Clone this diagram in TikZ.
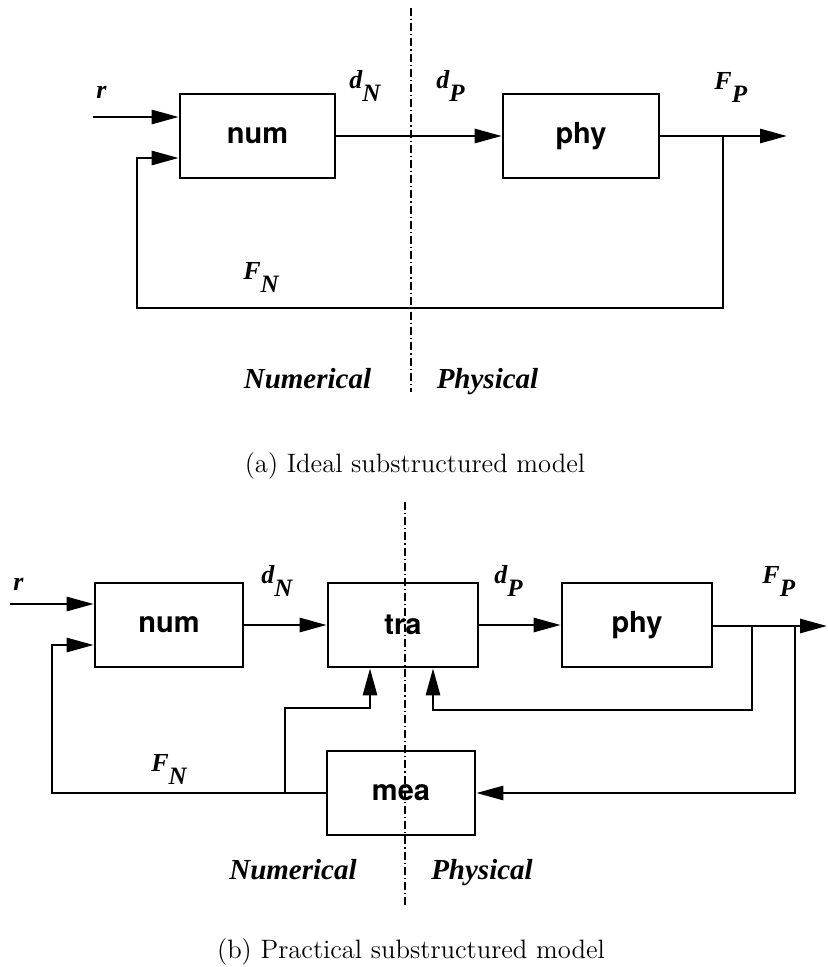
\documentclass[tikz,border=0pt]{standalone}
\usepackage{fontspec}
\newfontfamily\labfont{Liberation Serif}
\newfontfamily\boxfont{TeX Gyre Heros}
\usetikzlibrary{arrows.meta}
\newcommand{\sig}[2]{#1\raisebox{-6.5pt}{\fontsize{12.5}{12.5}\selectfont #2}}
\begin{document}
\begin{tikzpicture}[x=0.5pt,y=-0.5pt,
  blk/.style={draw, line width=1.3pt, minimum width=#1, minimum height=42pt, inner sep=0pt,
    font=\boxfont\bfseries\fontsize{14.5}{14.5}\selectfont},
  conn/.style={line width=1.35pt},
  arr/.style={conn, -{Triangle[length=13.5pt,width=7pt]}},
  sep/.style={line width=0.75pt, dash pattern=on 4pt off 1.5pt on 0.6pt off 1.5pt},
  lab/.style={font=\labfont\bfseries\itshape\fontsize{13}{13}\selectfont, inner sep=0pt, anchor=north west},
  side/.style={font=\labfont\bfseries\itshape\fontsize{14.5}{14.5}\selectfont, inner sep=0pt, anchor=base},
  captxt/.style={inner sep=0pt, anchor=base, font=\fontsize{13.3}{15}\selectfont}]
\useasboundingbox (0,0) rectangle (828,967);

% ---------------- (a) ----------------
\draw[sep] (411,8) -- (411,392);
\node[blk=77.5pt] (numA) at (257.5,136) {num};
\node[blk=78pt] (phyA) at (581,136) {phy};
\coordinate (rA) at (93,117);
\draw[arr] (rA) -- (rA -| numA.west);
\draw[arr] (numA.east) -- (phyA.west);
\coordinate (outA) at (787,136);
\draw[arr] (phyA.east) -- (outA);
\coordinate (brA) at (723,136);
\coordinate (fbA1) at (723,308);
\coordinate (fbA2) at (137,308);
\coordinate (fbA3) at (137,158);
\draw[arr] (brA) -- (fbA1) -- (fbA2) -- (fbA3) -- (fbA3 -| numA.west);

\node[lab] (rlabA) at (96,86) {r};
\node[lab] (dNA) at (349,70) {\sig{d}{N}};
\node[lab] (dPA) at (436,70) {\sig{d}{P}};
\node[lab] (FPA) at (714,72) {\sig{F}{P}};
\node[lab] (FNA) at (243,262) {\sig{F}{N}};
\node[side] (numerA) at (307.5,388) {Numerical};
\node[side] (physA) at (487.5,388) {Physical};
\node[captxt] (capA) at (415,472) {(a) Ideal substructured model};

% ---------------- (b) ----------------
\draw[sep] (405,502) -- (405,905);
\node[blk=74pt] (numB) at (169,625) {num};
\node[blk=75pt] (traB) at (403,625) {tra};
\node[blk=75pt] (phyB) at (637,625) {phy};
\node[blk=74pt] (meaB) at (401,793) {mea};

\coordinate (rB) at (10,604);
\draw[arr] (rB) -- (rB -| numB.west);
\draw[arr] (numB.east) -- (traB.west);
\draw[arr] (traB.east) -- (phyB.west);
\coordinate (outB) at (827,626);
\draw[arr] (phyB.east |- outB) -- (outB);

\coordinate (br1) at (752,626);
\coordinate (br1a) at (752,710);
\coordinate (br1b) at (433,710);
\draw[arr] (br1) -- (br1a) -- (br1b) -- (br1b |- traB.south);

\coordinate (br2) at (795,626);
\coordinate (br2a) at (795,793);
\draw[arr] (br2) -- (br2a) -- (meaB.east);

\coordinate (fb1) at (52,793);
\coordinate (fb2) at (52,645);
\draw[arr] (meaB.west) -- (fb1) -- (fb2) -- (fb2 -| numB.west);

\coordinate (jn) at (285,793);
\coordinate (jn1) at (285,708);
\coordinate (jn2) at (370,708);
\draw[arr] (jn) -- (jn1) -- (jn2) -- (jn2 |- traB.south);

\node[lab] (rlabB) at (13,578) {r};
\node[lab] (dNB) at (261,565) {\sig{d}{N}};
\node[lab] (dPB) at (494,565) {\sig{d}{P}};
\node[lab] (FPB) at (762,566) {\sig{F}{P}};
\node[lab] (FNB) at (151,754) {\sig{F}{N}};
\node[side] (numerB) at (293,879) {Numerical};
\node[side] (physB) at (482,879) {Physical};
\node[captxt] (capB) at (411,958) {(b) Practical substructured model};
\end{tikzpicture}
\end{document}
